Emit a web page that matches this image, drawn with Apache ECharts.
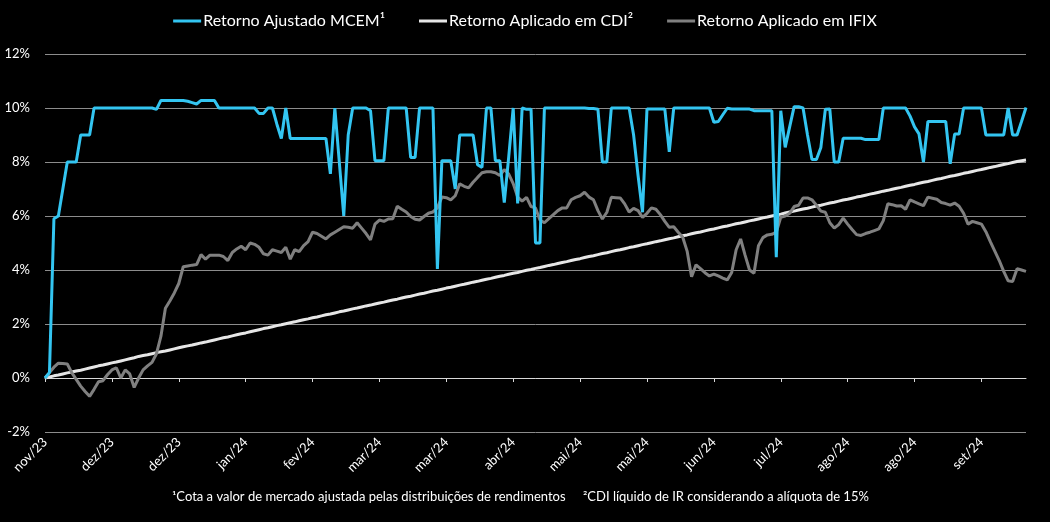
<!DOCTYPE html>
<html>
<head>
<meta charset="utf-8">
<script src="https://cdn.jsdelivr.net/npm/echarts@6/dist/echarts.min.js"></script>
<style>
  html, body { margin: 0; padding: 0; background: #000; }
  #chart { width: 1050px; height: 522px; }
</style>
</head>
<body>
<div id="chart"></div>
<script>
// x-axis labels, one every 15 trading days
const tickLabels = ['nov/23', 'dez/23', 'dez/23', 'jan/24', 'fev/24', 'mar/24', 'mar/24', 'abr/24',
  'mai/24', 'mai/24', 'jun/24', 'jul/24', 'ago/24', 'ago/24', 'set/24']
const labelStep = 15

// Retorno Ajustado MCEM¹ (%)
const mcem = [
  0, 0.2, 5.9, 6.0, 7.0, 8.0, 8.0, 8.0, 9.0, 9.0,
  9.0, 10.0, 10.0, 10.0, 10.0, 10.0, 10.0, 10.0, 10.0, 10.0,
  10.0, 10.0, 10.0, 10.0, 10.0, 9.95, 10.28, 10.28, 10.28, 10.28,
  10.28, 10.28, 10.25, 10.2, 10.15, 10.28, 10.28, 10.28, 10.28, 10.0,
  10.0, 10.0, 10.0, 10.0, 10.0, 10.0, 10.0, 10.0, 9.8, 9.8,
  10.0, 10.0, 9.4, 8.87, 10.0, 8.87, 8.87, 8.87, 8.87, 8.87,
  8.87, 8.87, 8.87, 8.87, 7.56, 10.0, 8.0, 6.0, 9.0, 10.0,
  10.0, 10.0, 10.0, 9.9, 8.05, 8.05, 8.05, 10.0, 10.0, 10.0,
  10.0, 10.0, 8.17, 8.17, 10.0, 10.0, 10.0, 10.0, 4.04, 8.05,
  8.05, 8.05, 7.0, 9.0, 9.0, 9.0, 9.0, 7.9, 7.8, 10.0,
  10.0, 8.05, 8.05, 6.5, 8.2, 10.0, 6.47, 10.0, 9.95, 9.95,
  5.0, 5.0, 10.0, 10.0, 10.0, 10.0, 10.0, 10.0, 10.0, 10.0,
  10.0, 10.0, 9.98, 9.98, 9.95, 8.0, 8.0, 10.0, 10.0, 10.0,
  10.0, 10.0, 9.0, 7.5, 6.14, 9.96, 9.96, 9.96, 9.96, 9.96,
  8.38, 10.0, 10.0, 10.0, 10.0, 10.0, 10.0, 10.0, 10.0, 10.0,
  9.47, 9.5, 9.75, 9.99, 9.96, 9.96, 9.96, 9.96, 9.96, 9.9,
  9.9, 9.9, 9.9, 9.9, 4.47, 9.9, 8.54, 9.3, 10.05, 10.05,
  10.0, 9.0, 8.09, 8.09, 8.54, 9.95, 9.96, 8.0, 8.0, 8.88,
  8.88, 8.88, 8.88, 8.88, 8.83, 8.83, 8.83, 8.83, 10.0, 10.0,
  10.0, 10.0, 10.0, 10.0, 9.7, 9.3, 9.04, 8.0, 9.5, 9.5,
  9.5, 9.5, 9.5, 7.93, 9.04, 9.04, 10.0, 10.0, 10.0, 10.0,
  10.0, 9.0, 9.0, 9.0, 9.0, 9.0, 10.0, 9.0, 9.0, 9.5,
  10.02
]

// Retorno Aplicado em CDI² (%)
const cdi = [
  0, 0.04, 0.08, 0.11, 0.15, 0.19, 0.22, 0.26, 0.29, 0.33,
  0.37, 0.41, 0.45, 0.48, 0.52, 0.56, 0.59, 0.63, 0.67, 0.71,
  0.75, 0.8, 0.83, 0.86, 0.9, 0.94, 0.97, 1.0, 1.04, 1.08,
  1.12, 1.16, 1.19, 1.22, 1.26, 1.3, 1.33, 1.37, 1.41, 1.45,
  1.49, 1.52, 1.56, 1.6, 1.64, 1.67, 1.71, 1.75, 1.79, 1.83,
  1.86, 1.9, 1.94, 1.97, 2.01, 2.05, 2.08, 2.12, 2.16, 2.19,
  2.23, 2.26, 2.3, 2.34, 2.37, 2.41, 2.45, 2.48, 2.52, 2.56,
  2.59, 2.63, 2.67, 2.7, 2.74, 2.78, 2.81, 2.85, 2.89, 2.92,
  2.96, 3.0, 3.03, 3.07, 3.11, 3.14, 3.18, 3.22, 3.25, 3.29,
  3.33, 3.36, 3.4, 3.44, 3.47, 3.51, 3.55, 3.58, 3.62, 3.66,
  3.69, 3.73, 3.77, 3.8, 3.84, 3.88, 3.91, 3.95, 3.99, 4.02,
  4.06, 4.09, 4.13, 4.17, 4.2, 4.24, 4.28, 4.31, 4.35, 4.39,
  4.42, 4.46, 4.5, 4.53, 4.57, 4.61, 4.64, 4.68, 4.72, 4.75,
  4.79, 4.83, 4.86, 4.9, 4.94, 4.97, 5.01, 5.05, 5.08, 5.12,
  5.16, 5.19, 5.23, 5.27, 5.3, 5.34, 5.38, 5.41, 5.45, 5.49,
  5.52, 5.56, 5.6, 5.63, 5.67, 5.71, 5.74, 5.78, 5.82, 5.85,
  5.89, 5.93, 5.96, 6.0, 6.04, 6.07, 6.11, 6.15, 6.18, 6.22,
  6.26, 6.29, 6.33, 6.37, 6.4, 6.44, 6.48, 6.51, 6.55, 6.59,
  6.62, 6.66, 6.7, 6.73, 6.77, 6.81, 6.84, 6.88, 6.92, 6.95,
  6.99, 7.03, 7.06, 7.1, 7.14, 7.17, 7.21, 7.25, 7.28, 7.32,
  7.36, 7.39, 7.43, 7.47, 7.5, 7.54, 7.58, 7.61, 7.65, 7.69,
  7.72, 7.76, 7.8, 7.83, 7.87, 7.91, 7.94, 7.98, 8.02, 8.05,
  8.07
]

// Retorno Aplicado em IFIX (%)
const ifix = [
  0, 0.2, 0.4, 0.55, 0.54, 0.52, 0.2, -0.05, -0.3, -0.5,
  -0.68, -0.42, -0.14, -0.1, 0.12, 0.3, 0.38, 0.0, 0.3, 0.15,
  -0.35, 0.0, 0.3, 0.45, 0.58, 0.9, 1.55, 2.58, 2.85, 3.15,
  3.5, 4.12, 4.15, 4.18, 4.2, 4.57, 4.4, 4.55, 4.55, 4.55,
  4.5, 4.35, 4.65, 4.78, 4.88, 4.75, 5.0, 4.95, 4.84, 4.6,
  4.55, 4.75, 4.7, 4.65, 4.84, 4.4, 4.75, 4.68, 4.9, 5.05,
  5.4, 5.35, 5.25, 5.15, 5.3, 5.4, 5.5, 5.6, 5.58, 5.55,
  5.75, 5.55, 5.35, 5.12, 5.7, 5.85, 5.8, 5.89, 5.9, 6.36,
  6.25, 6.15, 5.98, 5.88, 5.85, 5.98, 6.1, 6.15, 6.3, 6.7,
  6.68, 6.6, 6.75, 7.19, 7.1, 7.04, 7.25, 7.43, 7.6, 7.64,
  7.64, 7.6, 7.5, 7.72, 7.55, 7.2, 6.7, 6.55, 6.69, 6.35,
  6.3, 5.85, 5.75, 5.9, 6.05, 6.2, 6.3, 6.3, 6.6, 6.69,
  6.75, 6.88, 6.7, 6.6, 6.2, 5.89, 6.14, 6.69, 6.68, 6.67,
  6.45, 6.15, 6.28, 6.2, 5.95, 6.1, 6.3, 6.25, 6.05, 5.8,
  5.58, 5.6, 5.4, 5.22, 4.7, 3.75, 4.19, 4.05, 3.9, 3.78,
  3.85, 3.78, 3.7, 3.63, 3.91, 4.75, 5.15, 4.55, 4.0, 3.88,
  4.9, 5.2, 5.3, 5.32, 5.4, 5.95, 6.0, 6.1, 6.35, 6.4,
  6.67, 6.67, 6.6, 6.4, 6.18, 6.14, 5.75, 5.55, 5.68, 5.92,
  5.7, 5.5, 5.31, 5.28, 5.35, 5.4, 5.46, 5.52, 5.83, 6.45,
  6.42, 6.37, 6.38, 6.25, 6.6, 6.52, 6.45, 6.38, 6.7, 6.66,
  6.62, 6.5, 6.46, 6.4, 6.48, 6.36, 6.1, 5.7, 5.8, 5.75,
  5.7, 5.42, 5.05, 4.7, 4.35, 3.95, 3.6, 3.57, 4.05, 4.0,
  3.95
]

const days = mcem.map((_, i) => String(i))
const onLabel = (i) => i % labelStep === 0

const font = 'Lato, "Open Sans", sans-serif'

const chart = echarts.init(document.getElementById('chart'), null, { renderer: 'canvas' })

chart.setOption({
  backgroundColor: '#000',
  animation: false,
  textStyle: { fontFamily: font },
  legend: {
    top: 8,
    left: 'center',
    icon: 'rect',
    itemWidth: 28,
    itemHeight: 3,
    itemGap: 34,
    textStyle: { color: '#fff', fontSize: 16, fontFamily: font, padding: [0, 0, 0, -3] },
    data: ['Retorno Ajustado MCEM¹', 'Retorno Aplicado em CDI²', 'Retorno Aplicado em IFIX'],
  },
  grid: { left: 45, right: 24, top: 54, bottom: 90, containLabel: false },
  xAxis: [
    {
      type: 'category',
      data: days,
      boundaryGap: false,
      axisLine: { show: false, onZero: false },
      axisTick: { show: false },
      axisLabel: {
        color: '#fff',
        fontSize: 13,
        rotate: 45,
        margin: 8,
        interval: onLabel,
        formatter: (v, i) => tickLabels[i / labelStep] || '',
      },
    },
    {
      type: 'category',
      data: days,
      boundaryGap: false,
      position: 'bottom',
      axisLine: { show: true, onZero: true, lineStyle: { color: '#d9d9d9', width: 1 } },
      axisTick: { show: true, interval: onLabel, length: 4, lineStyle: { color: '#d9d9d9' } },
      axisLabel: { show: false },
    },
  ],
  yAxis: {
    type: 'value',
    min: -2,
    max: 12,
    interval: 2,
    axisLine: { show: false },
    axisTick: { show: false },
    axisLabel: { color: '#fff', fontSize: 13, margin: 15, formatter: (v) => v + '%' },
    splitLine: { lineStyle: { color: '#8c8c8c', width: 1 } },
  },
  graphic: [
    {
      type: 'text',
      left: 172,
      top: 490,
      style: {
        text: '¹Cota a valor de mercado ajustada pelas distribuições de rendimentos',
        fill: '#fff', fontSize: 13, fontFamily: font,
      },
    },
    {
      type: 'text',
      left: 583,
      top: 490,
      style: {
        text: '²CDI líquido de IR considerando a alíquota de 15%',
        fill: '#fff', fontSize: 13, fontFamily: font,
      },
    },
  ],
  series: [
    {
      name: 'Retorno Aplicado em CDI²',
      type: 'line',
      data: cdi,
      showSymbol: false,
      lineStyle: { color: '#e6e6e6', width: 3 },
      itemStyle: { color: '#e6e6e6' },
      z: 2,
    },
    {
      name: 'Retorno Aplicado em IFIX',
      type: 'line',
      data: ifix,
      showSymbol: false,
      lineStyle: { color: '#808080', width: 3 },
      itemStyle: { color: '#808080' },
      z: 3,
    },
    {
      name: 'Retorno Ajustado MCEM¹',
      type: 'line',
      data: mcem,
      showSymbol: false,
      lineStyle: { color: '#33c5f1', width: 3 },
      itemStyle: { color: '#33c5f1' },
      z: 4,
    },
  ],
})
</script>
</body>
</html>
